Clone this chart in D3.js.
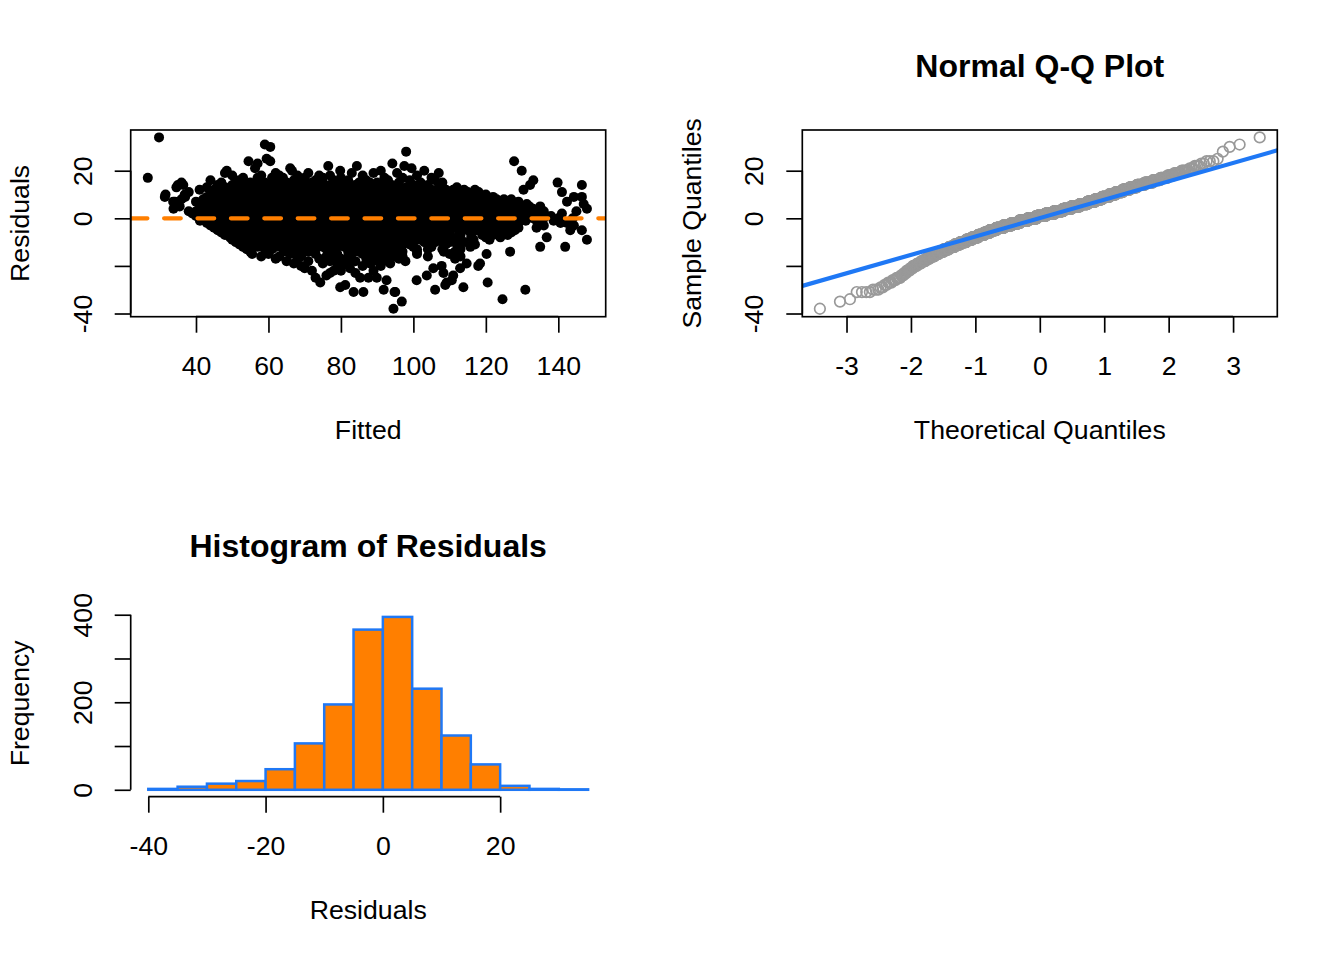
<!DOCTYPE html>
<html>
<head>
<meta charset="utf-8">
<script src="https://cdn.jsdelivr.net/npm/d3@7"></script>
<style>
  html, body { margin: 0; padding: 0; background: #ffffff; }
  svg { display: block; }
  text { font-family: "Liberation Sans", Arial, Helvetica, sans-serif; fill: #000; }
</style>
</head>
<body>
<svg id="chart" width="1344" height="960"></svg>
<script>
// ---------------- DATA ----------------
// Residual levels (rounded) and, for each level, the fitted values of the points at that residual
const residualLevels = [34, 31, 30, 28, 25, 24, 23, 22, 21, 20, 19, 18, 17, 16, 15, 14, 13, 12, 11, 10,
  9, 8, 7, 6, 5, 4, 3, 2, 1, 0, -1, -2, -3, -4, -5, -6, -7, -8, -9, -10,
  -11, -12, -13, -14, -15, -16, -17, -18, -19, -20, -21, -22, -23, -24, -25, -26, -27, -28, -29, -30,
  -31, -34, -35, -38];

const fittedByLevel = [
  [29.8],
  [59],
  [60.5],
  [98],
  [59.5],
  [54.5, 60.5, 127.8],
  [94.2, 57],
  [76.5, 84.4, 97.5],
  [56.3, 99.5, 66],
  [48.5, 66.5, 79.8, 91, 103, 129.9],
  [48, 62, 71, 83, 89, 95.5, 107],
  [50, 58, 68, 77, 86, 101, 74, 63],
  [26.7, 53, 57, 61, 70, 75, 80, 92, 97, 105, 64],
  [44, 52, 57, 63, 67, 73, 78, 87, 93, 99, 106, 133.1, 82, 69],
  [36, 47, 51, 55, 59, 62, 65, 69, 75, 78, 81, 85, 90, 96, 102, 108, 72, 88, 139.8],
  [35, 36.5, 46, 50, 54, 57, 60, 63, 66, 68, 71, 77, 80, 84, 89, 94, 100, 104, 132.2, 146.5, 73, 92],
  [34.6, 43, 48, 52, 56, 59, 62, 66, 70, 72, 74, 75, 79, 83, 87, 91, 95, 98, 103, 107, 112, 64, 86, 89],
  [41, 45, 49, 53, 58, 61, 64, 66, 69, 72, 76, 79, 81, 85, 88, 92, 94, 97, 99, 101, 105, 109, 111, 114, 117, 130.4, 56, 83],
  [38, 46, 50, 54, 56, 57, 60, 63, 65, 67, 71, 74, 77, 78, 82, 86, 89, 91, 93, 96, 100, 102, 104, 108, 112, 115, 118, 141, 69, 84, 97],
  [31.6, 44, 48, 51, 53, 55, 59, 62, 64, 66, 69, 71, 73, 76, 80, 83, 84, 87, 90, 94, 96, 98, 101, 103, 105, 107, 109, 113, 116, 117, 120, 58, 92, 36.9],
  [37, 43, 47, 50, 53, 55, 57, 60, 63, 65, 68, 70, 72, 75, 78, 79, 81, 85, 86, 88, 90, 92, 95, 97, 99, 102, 104, 106, 110, 112, 114, 118, 120, 122, 144.3, 146.5, 31.4, 67, 83, 108],
  [36, 42, 46, 49, 52, 54, 56, 58, 60, 61, 64, 66, 67, 70, 71, 73, 75, 77, 80, 82, 83, 86, 87, 89, 91, 93, 94, 97, 99, 100, 103, 105, 107, 109, 111, 115, 117, 119, 123, 125, 127, 101, 79, 96, 113],
  [34.2, 40, 45, 47, 50, 52, 53, 56, 58, 59, 61, 62, 64, 65, 68, 70, 71, 74, 76, 77, 79, 80, 82, 84, 85, 88, 90, 91, 94, 96, 97, 98, 100, 102, 103, 106, 108, 109, 112, 114, 116, 118, 119, 121, 122, 124, 126, 129, 142.4, 33.7, 73, 87],
  [41, 44, 48, 49, 51, 54, 55, 57, 59, 60, 62, 63, 65, 66, 67, 69, 70, 72, 73, 75, 78, 79, 80, 81, 83, 85, 86, 88, 89, 91, 92, 93, 95, 97, 98, 99, 101, 103, 104, 105, 107, 109, 110, 111, 113, 115, 117, 120, 122, 123, 126, 127, 128, 131.3, 147, 76, 84, 118, 100, 34.6],
  [35.5, 42, 45, 47, 48, 50, 52, 53, 55, 56, 57, 58, 60, 61, 63, 64, 65, 66, 68, 69, 71, 72, 73, 74, 76, 77, 78, 80, 81, 82, 84, 85, 86, 88, 89, 90, 92, 93, 94, 96, 97, 98, 100, 102, 103, 105, 106, 108, 109, 111, 112, 114, 115, 117, 118, 120, 121, 123, 124, 126, 127, 129, 132, 79, 87, 99, 110, 62, 135],
  [33.8, 41, 43, 46, 48, 49, 51, 52.5, 54, 55.5, 57, 59, 60, 61.5, 62.5, 64, 65, 66.5, 67.5, 70, 71, 72, 73.5, 75, 76, 77, 78.5, 80.5, 82, 83, 84.5, 86, 87, 88.5, 90, 91, 93, 94, 95.5, 97, 98.5, 100, 101, 102.5, 104, 105, 106.5, 108, 109, 110.5, 112, 113, 114.5, 116, 117, 119, 120, 121.5, 123, 125, 126, 128, 130, 131, 133, 147.9, 63, 85, 98, 68, 79, 89, 111, 56],
  [38, 40, 42, 44.5, 46, 47.5, 49, 50.5, 52, 53, 54.5, 56, 57.5, 58.5, 60, 61, 62.5, 64, 65, 66, 67.5, 69, 70.5, 72, 73, 74.5, 75.5, 77, 78.5, 80, 81, 82.5, 84, 85.5, 86.5, 88, 89.5, 91, 92, 93.5, 95, 96, 97.5, 99, 100.5, 102, 103, 104.5, 106, 107.5, 109, 110, 111.5, 113, 114.5, 116, 118, 119.5, 121, 122.5, 124, 126, 128, 131, 136, 145, 55, 63, 71, 79, 87, 94, 101, 108, 115, 59, 76, 90, 105, 68],
  [39, 42, 44.5, 47, 49, 51, 52.5, 54, 55, 57, 58, 59.5, 61, 62, 63.5, 65, 66, 67.5, 69, 70, 71, 72.5, 74, 75, 76.5, 78, 79, 80, 81.5, 83, 84, 85, 86.5, 88, 89, 90, 91.5, 93, 94, 95, 96.5, 98, 99, 100, 101.5, 103, 104, 105.5, 107, 108, 109.5, 111, 112, 113.5, 115, 116, 117.5, 119, 120.5, 122, 123.5, 125, 127, 129, 131, 133, 135, 141, 56, 64, 73, 82, 87, 92, 97, 102, 106, 110, 114, 118, 60, 77, 68, 124],
  [40, 43, 45.5, 48, 50, 51.5, 53, 54.5, 56, 57.5, 59, 60, 61.5, 63, 64, 65.5, 67, 68, 69.5, 71, 72, 73.5, 75, 76, 77.5, 79, 80, 81.5, 83, 84, 85.5, 87, 88, 89.5, 91, 92, 93.5, 95, 96, 97.5, 99, 100, 101.5, 103, 104, 105.5, 107, 108, 109.5, 111, 112.5, 114, 115.5, 117, 118.5, 120, 121.5, 123, 124.5, 126, 128, 130, 132, 134, 138, 55, 62, 70, 78, 86, 94, 102, 110, 119, 58, 66, 74, 82, 90, 98, 106, 113, 47, 52, 125, 97],
  [41, 44, 46.5, 49, 51, 53, 54.5, 56, 57.5, 59, 60.5, 62, 63, 64.5, 66, 67, 68.5, 70, 71, 72.5, 74, 75, 76.5, 78, 79, 80.5, 82, 83, 84.5, 86, 87, 88.5, 90, 91, 92.5, 94, 95, 96.5, 98, 99, 100.5, 102, 103, 104.5, 106, 107, 108.5, 110, 111, 112.5, 114, 115.5, 117, 118.5, 120, 122, 124, 126, 128, 130, 133, 136, 140, 144, 55, 65, 73, 81, 89, 97, 105, 113, 121, 61, 77, 93, 109, 69, 85, 101, 52, 116, 58, 131.5],
  [41.1, 45, 47.5, 50, 52, 54, 55.5, 57, 58.5, 60, 61.5, 63, 64, 65.5, 67, 68, 69.5, 71, 72, 73.5, 75, 76, 77.5, 79, 80, 81.5, 83, 84, 85.5, 87, 88, 89.5, 91, 92, 93.5, 95, 96, 97.5, 99, 100, 101.5, 103, 104, 105.5, 107, 108.5, 110, 111.5, 113, 114.5, 116, 117.5, 119, 121, 123, 125, 127, 129, 131, 134, 138.7, 56, 66, 74, 82, 90, 98, 106, 114, 62, 78, 94, 110, 70, 86, 102, 59, 118],
  [43, 46, 48.5, 51, 53, 55, 56.5, 58, 59.5, 61, 62.5, 64, 65, 66.5, 68, 69, 70.5, 72, 73, 74.5, 76, 77, 78.5, 80, 81, 82.5, 84, 85, 86.5, 88, 89, 90.5, 92, 93, 94.5, 96, 97, 98.5, 100, 101, 102.5, 104, 105, 106.5, 108, 109.5, 111, 112.5, 114, 116, 118, 120, 122, 124, 126, 129, 140.6, 142.4, 57, 67, 75, 83, 91, 99, 107, 115, 63, 79, 95, 71, 87, 103],
  [44, 47, 49.5, 52, 54, 56, 57.5, 59, 60.5, 62, 63.5, 65, 66.5, 68, 69, 70.5, 72, 73, 74.5, 76, 77, 78.5, 80, 81, 82.5, 84, 85, 86.5, 88, 89, 90.5, 92, 93, 94.5, 96, 97.5, 99, 100.5, 102, 103.5, 105, 107, 109, 111, 113, 115, 117, 119, 121, 124, 128, 136, 144.3, 58, 67, 75, 83, 91, 99, 64, 80, 96, 71, 87, 104, 110, 61],
  [45, 48, 50.5, 53, 55, 57, 58.5, 60, 61.5, 63, 64.5, 66, 67.5, 69, 70.5, 72, 73.5, 75, 76.5, 78, 79.5, 81, 82.5, 84, 85.5, 87, 88.5, 90, 91.5, 93, 94.5, 96, 97.5, 99, 101, 103, 105, 107, 109, 111, 113, 115, 117.5, 120, 123, 126, 129, 134, 59, 68, 77, 86, 95, 65, 83, 100, 74, 92, 108],
  [46, 49, 51.5, 54, 56, 58, 60, 61.5, 63, 65, 66.5, 68, 70, 71.5, 73, 75, 76.5, 78, 80, 81.5, 83, 85, 86.5, 88, 90, 91.5, 93, 95, 97, 99, 101, 103, 105, 107.5, 110, 112.5, 115, 117.5, 120, 123, 128, 143.3, 146.5, 64, 79, 94, 69],
  [47, 50, 53, 55.5, 58, 60, 62, 64, 66, 68, 70, 72, 74, 76, 78, 80, 82, 84, 86, 88, 90, 92, 94, 96, 98, 100, 102.5, 105, 107.5, 110, 113, 116, 119, 122, 125, 127, 71, 87, 63],
  [48, 51, 54, 56.5, 59, 61, 63, 65, 67, 69, 71, 73, 75, 77, 79, 81, 83, 85, 87, 89, 91, 93, 95, 97, 99, 101.5, 104, 107, 110, 113, 116, 119, 122, 126, 80, 92, 66, 105, 70],
  [49.4, 52, 55, 58, 60.5, 63, 65.5, 68, 70.5, 73, 75, 77, 79, 81, 83, 85, 87, 89, 91, 93, 95.5, 98, 100.5, 103, 106, 109, 112, 116, 120, 124, 136.8, 84, 72, 96, 62],
  [50, 53, 57, 60, 63, 66, 68.5, 71, 73.5, 76, 78.5, 81, 83.5, 86, 88.5, 91, 93.5, 96, 99, 102, 105, 108, 111, 116.6, 121, 147.9, 65, 80, 90, 100, 75],
  [51, 55, 59, 62, 65, 68, 71, 74, 77, 80, 83, 86, 89, 91.5, 94, 97, 100, 103, 106, 110, 114, 69, 85, 95, 61, 79, 108, 88],
  [52, 56, 60, 64, 68, 72, 76, 80, 84, 88, 91, 95, 99, 104, 109, 58, 66, 74, 82, 90, 97, 112, 70, 117],
  [53, 57, 62, 66, 70, 75, 79, 84, 88, 92, 96, 100, 105, 115.7, 135, 141.9, 60, 73, 86, 94, 81],
  [54, 59, 64, 69, 73, 78, 83, 87, 91, 95, 101, 108, 61, 76, 89, 113, 104, 85],
  [55, 60, 65, 71, 77, 82, 88, 93, 97, 101, 111.5, 126.7, 68, 85, 108.4],
  [55.5, 60, 66, 73, 79, 86, 90, 94, 101, 120.2, 110, 83],
  [58, 63, 69, 76, 82, 88, 92, 97, 104, 113, 95],
  [62, 68, 74, 80, 87, 91, 111.5, 78, 96],
  [65, 71, 77, 84, 89, 97.8, 82, 93],
  [67, 75, 81, 88, 93.6, 114.7, 118.4],
  [69, 79, 86, 107.8, 117.9, 91],
  [70, 82.5, 112.9, 105.5],
  [72, 80, 89, 78],
  [108.3, 77, 84],
  [76, 103.7, 111],
  [85.3, 87.6, 89.9, 73],
  [92.6, 100.9, 110.6],
  [74.3, 120.5, 109.2],
  [81.2, 108.8],
  [79.8, 113.8],
  [91.8, 106, 130.9],
  [86.2, 95, 94.8, 83.5],
  [124.6],
  [96.8],
  [94.5]
];

// Histogram of residuals (bin edges and counts)
const histBreaks = [-40, -35, -30, -25, -20, -15, -10, -5, 0, 5, 10, 15, 20, 25, 30, 35];
const histCounts = [2, 7, 14, 20, 47, 106, 195, 366, 395, 231, 124, 58, 9, 2, 1];

// Q-Q reference line (two points, theoretical -> sample)
const qqLineTheoretical = [-3.70, 3.69];
const qqLineSample = [-28.5, 28.6];

// Axis ticks and labels (R drops labels that would overlap)
const fittedTicks = [40, 60, 80, 100, 120, 140];
const residTicks = [-40, -20, 0, 20];
const residTickLabels = ["-40", "", "0", "20"];
const theoTicks = [-3, -2, -1, 0, 1, 2, 3];
const histXTicks = [-40, -20, 0, 20];
const freqTicks = [0, 100, 200, 300, 400];
const freqTickLabels = ["0", "", "200", "", "400"];

// ---------------- HELPERS ----------------
const FS = 26.67;          // base font size (12pt at 160 dpi)
const TICK = 16;           // tick length
const LW = 1.67;           // lwd = 1
const ORANGE = "#FF7F00";
const BLUE = "#1F78F5";

const svg = d3.select("#chart");
svg.append("rect").attr("width", 1344).attr("height", 960).attr("fill", "#fff");

// inverse normal CDF (Acklam) used for theoretical quantiles of the Q-Q plot
function qnorm(p) {
  const a = [-3.969683028665376e+01, 2.209460984245205e+02, -2.759285104469687e+02, 1.383577518672690e+02, -3.066479806614716e+01, 2.506628277459239e+00];
  const b = [-5.447609879822406e+01, 1.615858368580409e+02, -1.556989798598866e+02, 6.680131188771972e+01, -1.328068155288572e+01];
  const c = [-7.784894002430293e-03, -3.223964580411365e-01, -2.400758277161838e+00, -2.549732539343734e+00, 4.374664141464968e+00, 2.938163982698783e+00];
  const d = [7.784695709041462e-03, 3.224671290700398e-01, 2.445134137142996e+00, 3.754408661907416e+00];
  const pl = 0.02425, ph = 1 - pl;
  let q, r;
  if (p < pl) {
    q = Math.sqrt(-2 * Math.log(p));
    return (((((c[0]*q + c[1])*q + c[2])*q + c[3])*q + c[4])*q + c[5]) / ((((d[0]*q + d[1])*q + d[2])*q + d[3])*q + 1);
  } else if (p <= ph) {
    q = p - 0.5; r = q * q;
    return (((((a[0]*r + a[1])*r + a[2])*r + a[3])*r + a[4])*r + a[5]) * q / (((((b[0]*r + b[1])*r + b[2])*r + b[3])*r + b[4])*r + 1);
  } else {
    q = Math.sqrt(-2 * Math.log(1 - p));
    return -(((((c[0]*q + c[1])*q + c[2])*q + c[3])*q + c[4])*q + c[5]) / ((((d[0]*q + d[1])*q + d[2])*q + d[3])*q + 1);
  }
}

function padDomain(ext) { const r = ext[1] - ext[0]; return [ext[0] - 0.04 * r, ext[1] + 0.04 * r]; }

// bottom axis in R style
function bottomAxis(g, scale, ticks, labels, y0) {
  const ax = d3.axisBottom(scale).tickValues(ticks).tickSize(TICK).tickSizeOuter(0)
    .tickFormat((d, i) => labels ? labels[i] : String(d));
  const a = g.append("g").attr("transform", `translate(0,${y0})`).call(ax);
  a.select(".domain").remove();
  a.append("line").attr("x1", scale(ticks[0])).attr("x2", scale(ticks[ticks.length - 1]))
    .attr("stroke", "#000").attr("stroke-width", LW);
  a.selectAll(".tick line").attr("stroke", "#000").attr("stroke-width", LW);
  a.selectAll(".tick text").attr("y", 58).attr("dy", null)
    .style("font-size", FS + "px").style("font-family", "Liberation Sans, Arial, sans-serif").attr("fill", "#000");
  return a;
}
function leftAxis(g, scale, ticks, labels, x0) {
  const ax = d3.axisLeft(scale).tickValues(ticks).tickSize(TICK).tickSizeOuter(0)
    .tickFormat((d, i) => labels ? labels[i] : String(d));
  const a = g.append("g").attr("transform", `translate(${x0},0)`).call(ax);
  a.select(".domain").remove();
  a.append("line").attr("y1", scale(ticks[0])).attr("y2", scale(ticks[ticks.length - 1]))
    .attr("stroke", "#000").attr("stroke-width", LW);
  a.selectAll(".tick line").attr("stroke", "#000").attr("stroke-width", LW);
  a.selectAll(".tick text").attr("x", 0).attr("y", 0).attr("dy", null)
    .attr("text-anchor", "middle").attr("transform", "translate(-39,0) rotate(-90)")
    .style("font-size", FS + "px").style("font-family", "Liberation Sans, Arial, sans-serif").attr("fill", "#000");
  return a;
}
function box(g, x0, x1, y0, y1) {
  g.append("rect").attr("x", x0).attr("y", y0).attr("width", x1 - x0).attr("height", y1 - y0)
    .attr("fill", "none").attr("stroke", "#000").attr("stroke-width", LW);
}
function xLabel(g, text, cx, y) {
  g.append("text").attr("x", cx).attr("y", y).attr("text-anchor", "middle").style("font-size", FS + "px").text(text);
}
function yLabel(g, text, x, cy) {
  g.append("text").attr("transform", `translate(${x},${cy}) rotate(-90)`).attr("text-anchor", "middle")
    .style("font-size", FS + "px").text(text);
}
function title(g, text, cx, y) {
  g.append("text").attr("x", cx).attr("y", y).attr("text-anchor", "middle")
    .style("font-size", "32px").style("font-weight", "bold").text(text);
}

// ---------------- DATA PREP ----------------
const points = residualLevels.flatMap((r, i) => fittedByLevel[i].map(f => ({ fitted: f, residual: r })));
const sortedRes = points.map(d => d.residual).sort(d3.ascending);
const n = sortedRes.length;
const qq = sortedRes.map((s, i) => ({ t: qnorm((i + 0.5) / n), s }));

// plot regions
const L = 130.7, R = 605.7, L2 = 802.3, R2 = 1277.3;
const T1 = 130, B1 = 316.7, T2 = 610, B2 = 796.7;

const yRes = d3.scaleLinear().domain([-41.34, 37.1]).range([B1, T1]);

// ---------------- PANEL 1: residuals vs fitted ----------------
{
  const g = svg.append("g");
  const x = d3.scaleLinear().domain([21.98, 153.08]).range([L, R]);
  const clip = svg.append("clipPath").attr("id", "clip1");
  clip.append("rect").attr("x", L).attr("y", T1).attr("width", R - L).attr("height", B1 - T1);
  const pg = g.append("g").attr("clip-path", "url(#clip1)");
  pg.selectAll("circle").data(points).join("circle")
    .attr("cx", d => x(d.fitted)).attr("cy", d => yRes(d.residual))
    .attr("r", 5).attr("fill", "#000");
  pg.append("line").attr("x1", L).attr("x2", R).attr("y1", yRes(0)).attr("y2", yRes(0))
    .attr("stroke", ORANGE).attr("stroke-width", 4.2).attr("stroke-dasharray", "16.7,16.7")
    .attr("stroke-linecap", "round");
  box(g, L, R, T1, B1);
  bottomAxis(g, x, fittedTicks, null, B1);
  leftAxis(g, yRes, residTicks, residTickLabels, L);
  xLabel(g, "Fitted", (L + R) / 2, 438.7);
  yLabel(g, "Residuals", 29.3, (T1 + B1) / 2);
}

// ---------------- PANEL 2: Normal Q-Q ----------------
{
  const g = svg.append("g");
  const x = d3.scaleLinear().domain(padDomain(d3.extent(qq, d => d.t))).range([L2, R2]);
  const clip = svg.append("clipPath").attr("id", "clip2");
  clip.append("rect").attr("x", L2).attr("y", T1).attr("width", R2 - L2).attr("height", B1 - T1);
  const pg = g.append("g").attr("clip-path", "url(#clip2)");
  pg.selectAll("circle").data(qq).join("circle")
    .attr("cx", d => x(d.t)).attr("cy", d => yRes(d.s))
    .attr("r", 5.3).attr("fill", "none").attr("stroke", "#999999").attr("stroke-width", LW);
  const line = d3.line().x(d => x(d[0])).y(d => yRes(d[1]));
  pg.append("path").attr("d", line(d3.zip(qqLineTheoretical, qqLineSample)))
    .attr("stroke", BLUE).attr("stroke-width", 4.2).attr("fill", "none");
  box(g, L2, R2, T1, B1);
  bottomAxis(g, x, theoTicks, null, B1);
  leftAxis(g, yRes, residTicks, residTickLabels, L2);
  title(g, "Normal Q-Q Plot", (L2 + R2) / 2, 76.7);
  xLabel(g, "Theoretical Quantiles", (L2 + R2) / 2, 438.7);
  yLabel(g, "Sample Quantiles", 700.9, (T1 + B1) / 2);
}

// ---------------- PANEL 3: Histogram ----------------
{
  const g = svg.append("g");
  const bins = histCounts.map((c, i) => ({ x0: histBreaks[i], x1: histBreaks[i + 1], count: c }));
  const x = d3.scaleLinear().domain(padDomain(d3.extent(histBreaks))).range([L, R]);
  const y = d3.scaleLinear().domain(padDomain([0, d3.max(histCounts)])).range([B2, T2]);
  g.selectAll("rect.bar").data(bins).join("rect").attr("class", "bar")
    .attr("x", d => x(d.x0)).attr("width", d => x(d.x1) - x(d.x0))
    .attr("y", d => y(d.count)).attr("height", d => y(0) - y(d.count))
    .attr("fill", ORANGE).attr("stroke", BLUE).attr("stroke-width", 2.5);
  bottomAxis(g, x, histXTicks, null, B2);
  leftAxis(g, y, freqTicks, freqTickLabels, L);
  title(g, "Histogram of Residuals", (L + R) / 2, 556.7);
  xLabel(g, "Residuals", (L + R) / 2, 918.7);
  yLabel(g, "Frequency", 29.3, (T2 + B2) / 2);
}
</script>
</body>
</html>
